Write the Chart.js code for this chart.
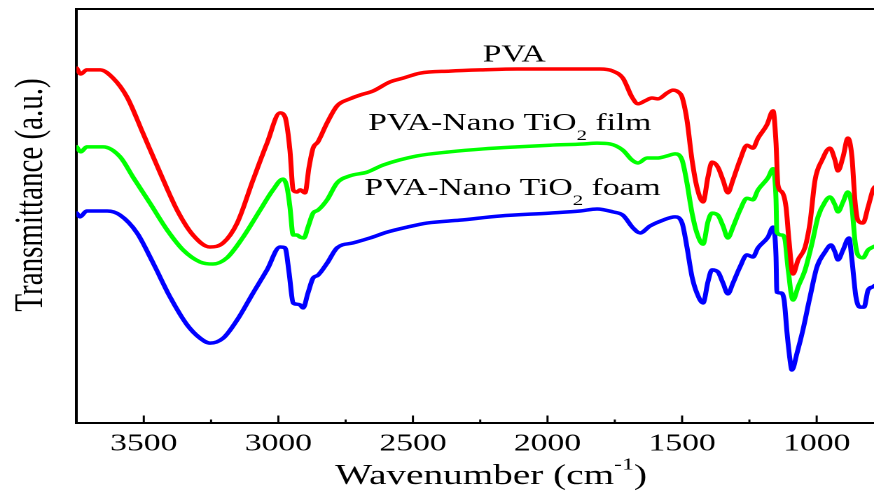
<!DOCTYPE html>
<html>
<head>
<meta charset="utf-8">
<script src="https://cdn.jsdelivr.net/npm/chart.js@4.4.1/dist/chart.umd.min.js"></script>
<style>
html,body{margin:0;padding:0;background:#fff;overflow:hidden;width:874px;height:491px;}
#wrap{position:absolute;left:0;top:0;width:624px;height:491px;transform:scaleX(1.40064);transform-origin:0 0;}
canvas{display:block;}
</style>
</head>
<body>
<div id="wrap"><canvas id="c" width="624" height="491"></canvas></div>
<script>
// ---- data (wavenumber in cm^-1, transmittance in a.u.) ----
const wnPVA = [3749,3734,3712,3662,3614,3562,3503,3439,3376,3317,3254,3205,3153,3094,3042,2994,2975,2957,2945,2931,2919,2901,2886,2871,2853,2819,2782,2734,2697,2648,2585,2537,2474,2362,2240,2113,1991,1868,1805,1757,1720,1686,1664,1638,1612,1590,1556,1534,1515,1500,1482,1463,1445,1422,1404,1389,1367,1348,1330,1311,1285,1259,1237,1218,1185,1162,1151,1144,1129,1114,1103,1088,1069,1043,1025,1006,980,951,932,921,902,884,869,858,847,828,809,791,785];
const tPVA = [85.7,84.3,85.3,85.3,83.3,78.7,70.0,60.4,51.4,45.4,42.5,43.5,48.3,58.7,67.6,74.9,73.9,65.9,56.3,55.8,56.3,55.6,61.8,66.4,67.9,72.5,76.6,78.3,79.2,80.2,82.4,83.3,84.5,85.0,85.3,85.5,85.5,85.5,85.5,85.0,83.3,78.7,77.1,77.8,78.5,78.3,79.7,80.4,80.0,78.7,73.2,63.5,57.0,53.4,59.4,63.0,61.8,58.7,55.6,58.7,63.5,67.1,66.4,68.8,72.0,75.4,67.6,57.5,55.8,52.2,44.2,36.0,39.4,42.5,48.3,58.7,63.5,66.4,63.5,60.9,64.3,68.8,64.3,53.9,49.0,48.3,52.2,56.3,57.0];

const wnFilm = [3749,3734,3712,3651,3588,3540,3477,3413,3354,3291,3243,3191,3131,3068,3020,2983,2968,2957,2945,2931,2919,2905,2890,2871,2853,2819,2782,2734,2670,2611,2485,2362,2240,2113,1991,1868,1816,1768,1720,1686,1664,1630,1593,1556,1526,1500,1482,1463,1445,1422,1404,1389,1367,1348,1330,1311,1285,1259,1237,1218,1181,1162,1151,1148,1129,1118,1107,1088,1069,1043,1017,995,969,951,932,921,902,884,869,858,847,828,809,791,785];
const tFilm = [66.7,65.5,66.7,66.7,64.3,59.4,53.1,46.6,41.8,38.9,38.4,39.9,44.9,51.4,56.3,58.9,57.0,52.2,45.4,45.4,44.9,44.7,47.3,50.7,51.4,53.9,58.0,59.7,60.6,62.3,64.5,65.5,66.2,66.7,67.1,67.4,67.6,67.4,65.9,63.5,62.8,64.0,64.0,64.5,65.0,63.5,58.0,50.7,45.9,43.2,48.6,50.7,50.2,47.6,44.7,47.3,51.4,54.3,53.9,56.3,59.2,61.4,53.9,46.1,45.4,44.4,37.7,29.7,32.9,37.0,43.5,49.8,53.4,54.6,52.7,51.0,53.4,55.8,52.2,44.2,40.6,39.9,41.8,42.5,42.7];

const wnFoam = [3749,3737,3712,3636,3588,3525,3465,3402,3339,3291,3254,3205,3153,3094,3042,2994,2975,2960,2945,2931,2919,2908,2890,2871,2853,2819,2782,2722,2659,2596,2522,2448,2325,2176,1991,1879,1816,1757,1720,1682,1656,1619,1571,1526,1500,1482,1463,1445,1422,1404,1389,1367,1348,1330,1311,1285,1259,1237,1218,1181,1162,1151,1148,1133,1121,1110,1099,1092,1073,1051,1025,999,969,947,932,921,902,880,869,854,839,824,809,791,785];
const tFoam = [50.7,49.8,51.2,51.2,50.2,45.9,38.6,30.4,23.7,20.5,19.3,20.5,24.9,31.4,37.0,42.5,42.3,36.2,29.0,28.7,28.5,27.8,31.4,35.0,35.7,38.6,42.3,43.5,44.7,46.1,47.3,48.3,49.0,50.0,50.7,51.2,51.7,51.0,50.2,47.1,45.9,47.6,49.0,49.8,48.3,42.5,35.3,31.4,29.0,34.1,37.0,36.5,33.8,31.2,33.8,37.7,40.6,40.1,42.3,44.9,47.3,40.1,31.6,31.4,29.7,21.7,15.2,12.8,16.9,22.5,30.4,37.7,41.3,43.0,41.3,39.4,41.8,44.7,39.4,30.4,28.0,28.0,32.1,32.9,33.2];

const seriesNames = ['PVA', 'PVA-Nano TiO2 film', 'PVA-Nano TiO2 foam'];
const xTickValues = [1000, 1250, 1500, 1750, 2000, 2250, 2500, 2750, 3000, 3250, 3500];
const xMajorStep = 500;
const xMin = 787, xMax = 3750;      // wavenumber range shown
const yMin = 0, yMax = 100;
const xTitle = 'Wavenumber (cm-1)';
const yTitle = 'Transmittance (a.u.)';

// ---- helpers ----
const SERIF = "'Liberation Serif','Times New Roman',serif";
const pts = (xs, ys) => xs.map((v, i) => ({x: v, y: ys[i]}));

function drawRich(ctx, parts, cx, baseline, size, align) {
  const sm = Math.round(size * 0.62);
  let total = 0;
  parts.forEach(p => {
    ctx.font = (p.sub || p.sup ? sm : size) + 'px ' + SERIF;
    p.w = ctx.measureText(p.t).width;
    total += p.w;
  });
  let x = align === 'center' ? cx - total / 2 : cx;
  ctx.textAlign = 'left';
  ctx.textBaseline = 'alphabetic';
  parts.forEach(p => {
    ctx.font = (p.sub || p.sup ? sm : size) + 'px ' + SERIF;
    let dy = 0;
    if (p.sub) dy = size * 0.42;
    if (p.sup) dy = -size * 0.52;
    ctx.fillText(p.t, x, baseline + dy);
    x += p.w;
  });
}

const decorPlugin = {
  id: 'decor',
  afterDraw(chart, args, opts) {
    const {ctx, chartArea: a, scales: {x, y}} = chart;
    ctx.save();
    ctx.strokeStyle = '#000';
    ctx.fillStyle = '#000';
    // top frame line
    ctx.lineWidth = 2;
    ctx.beginPath();
    ctx.moveTo(a.left - 1, a.top);
    ctx.lineTo(a.right, a.top);
    ctx.stroke();
    // inward tick marks on the bottom axis
    ctx.lineWidth = 1.5;
    x.ticks.forEach(t => {
      const v = t.value;
      const len = v % xMajorStep === 0 ? 7.5 : 3.5;
      const px = x.getPixelForValue(v);
      ctx.beginPath();
      ctx.moveTo(px, a.bottom);
      ctx.lineTo(px, a.bottom - len);
      ctx.stroke();
    });
    // curve labels
    opts.labels.forEach(l => {
      const cx = x.getPixelForValue(l.wn);
      const by = y.getPixelForValue(l.t);
      const name = seriesNames[l.idx];
      const k = name.indexOf('TiO2');
      const parts = k < 0 ? [{t: name}] :
        [{t: name.slice(0, k + 3)}, {t: '2', sub: true}, {t: name.slice(k + 4)}];
      drawRich(ctx, parts, cx, by, 24, 'center');
    });
    // x title
    const m = xTitle.indexOf('-1');
    drawRich(ctx, [{t: xTitle.slice(0, m)}, {t: '-1', sup: true}, {t: xTitle.slice(m + 2)}],
      opts.xTitleX, opts.xTitleY, 28, 'center');
    // y title
    ctx.translate(opts.yTitleX, opts.yTitleY);
    ctx.rotate(-Math.PI / 2);
    ctx.font = '29px ' + SERIF;
    ctx.textAlign = 'center';
    ctx.textBaseline = 'alphabetic';
    ctx.fillText(yTitle, 0, 0);
    ctx.restore();
  }
};

const lineStyle = {
  borderWidth: 3.5,
  pointRadius: 0,
  fill: false,
  cubicInterpolationMode: 'monotone',
  borderJoinStyle: 'round',
  borderCapStyle: 'round'
};

new Chart(document.getElementById('c'), {
  type: 'line',
  data: {
    datasets: [
      Object.assign({label: seriesNames[0], data: pts(wnPVA, tPVA), borderColor: '#ff0000'}, lineStyle),
      Object.assign({label: seriesNames[1], data: pts(wnFilm, tFilm), borderColor: '#00ff00'}, lineStyle),
      Object.assign({label: seriesNames[2], data: pts(wnFoam, tFoam), borderColor: '#0000ff'}, lineStyle)
    ]
  },
  options: {
    responsive: false,
    animation: false,
    devicePixelRatio: 2,
    events: [],
    layout: {padding: {top: 9, right: 0, bottom: 0, left: 0}},
    plugins: {
      legend: {display: false},
      tooltip: {enabled: false},
      decor: {
        labels: [
          {idx: 0, wn: 2124, t: 87.3},
          {idx: 1, wn: 2140, t: 70.8},
          {idx: 2, wn: 2130, t: 55.1}
        ],
        xTitleX: 350.6, xTitleY: 484,
        yTitleX: 29.8, yTitleY: 195
      }
    },
    scales: {
      x: {
        type: 'linear',
        reverse: true,
        min: xMin,
        max: xMax,
        afterBuildTicks: s => { s.ticks = xTickValues.map(v => ({value: v})); },
        afterFit: s => { s.height = 68; s.paddingLeft = 0; s.paddingRight = 0; },
        grid: {display: false, drawTicks: false},
        border: {display: true, color: '#000', width: 2},
        ticks: {
          autoSkip: false,
          maxRotation: 0,
          padding: 7,
          color: '#000',
          font: {family: SERIF, size: 24},
          callback: v => (v % xMajorStep === 0 ? String(v) : '')
        }
      },
      y: {
        min: yMin,
        max: yMax,
        afterFit: s => { s.width = 54.6; },
        grid: {display: false, drawTicks: false},
        border: {display: true, color: '#000', width: 2},
        ticks: {display: false}
      }
    }
  },
  plugins: [decorPlugin]
});
</script>
</body>
</html>
